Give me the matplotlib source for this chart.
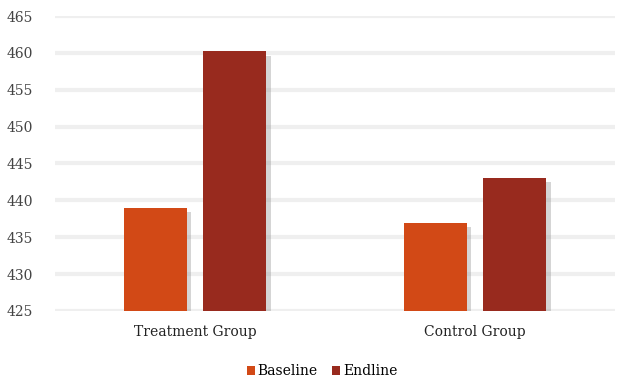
import numpy as np
import matplotlib
matplotlib.use('Agg')
import matplotlib.pyplot as plt
import matplotlib.patheffects as pe

groups = ['Treatment Group', 'Control Group']
series = ['Baseline', 'Endline']
baseline = [439.0, 436.9]
endline = [460.2, 443.0]
colors = ['#d24916', '#982a1e']

plt.rcParams['font.family'] = ['DejaVu Serif']

fig = plt.figure(figsize=(6.25, 3.81), dpi=100)
ax = fig.add_axes([0.088, 0.184, 0.896, 0.774])

x = np.arange(len(groups))
w = 0.225
gap = 0.06
shadow = [pe.SimplePatchShadow(offset=(3, -3), shadow_rgbFace='#888888', alpha=0.35), pe.Normal()]
b1 = ax.bar(x - (w + gap) / 2, np.array(baseline) - 425, w, bottom=425, color=colors[0],
            label=series[0], zorder=3)
b2 = ax.bar(x + (w + gap) / 2, np.array(endline) - 425, w, bottom=425, color=colors[1],
            label=series[1], zorder=3)
for b in list(b1) + list(b2):
    b.set_path_effects(shadow)

ax.set_xlim(-0.5, 1.5)
ax.set_ylim(425, 465)
ax.set_yticks(np.arange(425, 466, 5))
ax.yaxis.grid(True, color='#efefef', linewidth=3, zorder=0)
ax.set_axisbelow(True)
for s in ax.spines.values():
    s.set_visible(False)
ax.tick_params(length=0)
ax.tick_params(axis='y', pad=16, labelsize=10, labelcolor='#444444')
ax.tick_params(axis='x', pad=10, labelsize=10, labelcolor='#222222')
ax.set_xticks(x)
ax.set_xticklabels(groups)

leg = fig.legend(handles=[b1, b2], labels=series, loc='lower center', bbox_to_anchor=(0.515, -0.025),
                 ncol=2, frameon=False, fontsize=10, handlelength=0.6, handleheight=0.6,
                 handletextpad=0.2, columnspacing=1.0)
for h in leg.legend_handles:
    h.set_path_effects([])

fig.savefig('out.png', dpi=100)
